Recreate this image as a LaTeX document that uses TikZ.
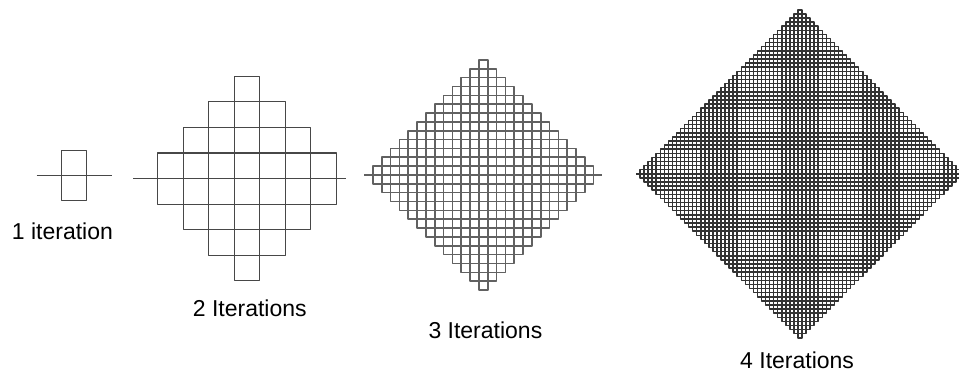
\documentclass[tikz,border=0pt]{standalone}
\usepackage{fontspec}
\setmainfont{Liberation Sans}

% One stage of the curve: nested cross rectangles plus the through line.
% #1,#2 centre; #3,#4 cell width and height; #5 number of rectangles;
% #6,#7 left and right reach of the through line; #8 line width; #9 ink
\newcommand\curvestage[9]{%
  \pgfmathtruncatemacro\kmax{#5-1}%
  \foreach \k in {0,...,\kmax} {%
    \draw[gridline, line width=#8, draw=#9]
      ({#1-(\k+0.5)*#3},{#2-(#5-\k)*#4}) rectangle
      ({#1+(\k+0.5)*#3},{#2+(#5-\k)*#4});
  }%
  \draw[gridline, line width=#8, draw=#9] ({#1-#6},#2) -- ({#1+#7},#2);
}

\begin{document}
\begin{tikzpicture}[x=1pt, y=-1pt,
  gridline/.style={line join=round},
  caption/.style={anchor=base west, inner sep=0pt,
    font=\fontsize{23}{27}\selectfont}]
\useasboundingbox (0,0) rectangle (959,377);
\fill[white] (0,0) rectangle (959,377);

% stages 1 to 4
\curvestage{74}{175.5}{25.5}{25}{1}{37.5}{37.5}{1.1pt}{black!72}
\curvestage{247}{178.6}{25.45}{25.55}{4}{114}{99}{1.1pt}{black!72}
\curvestage{483.3}{175}{8.83}{8.85}{13}{119}{119}{1.6pt}{black!62}
\curvestage{800}{173.8}{4.05}{4.1}{40}{164}{164}{1.5pt}{black!80}

% captions
\node[caption] (cap1) at (11.7,239)   {1 iteration};
\node[caption] (cap2) at (192.7,316.7) {2 Iterations};
\node[caption] (cap3) at (428.3,338.3) {3 Iterations};
\node[caption] (cap4) at (740,368.3)   {4 Iterations};
\end{tikzpicture}
\end{document}
